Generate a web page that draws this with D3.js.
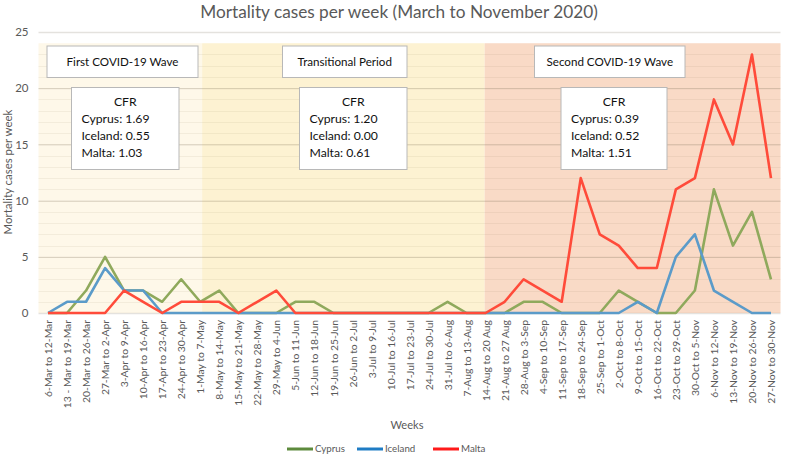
<!DOCTYPE html>
<html><head><meta charset="utf-8">
<script src="https://cdn.jsdelivr.net/npm/d3@7"></script>
<style>body{margin:0;background:#fff;} svg{display:block;}</style>
</head><body>
<script>
// ---------- DATA ----------
const weeks = ["6-Mar to 12-Mar","13 - Mar to 19-Mar","20-Mar to 26-Mar","27-Mar to 2-Apr","3-Apr to 9-Apr","10-Apr to 16-Apr","17-Apr to 23-Apr","24-Apr to 30-Apr","1-May to 7-May","8-May to 14-May","15-May to 21-May","22-May to 28-May","29-May to 4-Jun","5-Jun to 11-Jun","12-Jun to 18-Jun","19-Jun to 25-Jun","26-Jun to 2-Jul","3-Jul to 9-Jul","10-Jul to 16-Jul","17-Jul to 23-Jul","24-Jul to 30-Jul","31-Jul to 6-Aug","7-Aug to 13-Aug","14-Aug to 20 Aug","21-Aug to 27 Aug","28-Aug to 3-Sep","4-Sep to 10-Sep","11-Sep to 17-Sep","18-Sep to 24-Sep","25-Sep to 1-Oct","2-Oct to 8-Oct","9-Oct to 15-Oct","16-Oct to 22-Oct","23-Oct to 29-Oct","30-Oct to 5-Nov","6-Nov to 12-Nov","13-Nov to 19-Nov","20-Nov to 26-Nov","27-Nov to 30-Nov"];
const cyprus  = [0,0,2,5,2,2,1,3,1,2,0,0,0,1,1,0,0,0,0,0,0,1,0,0,0,1,1,0,0,0,2,1,0,0,2,11,6,9,3];
const iceland = [0,1,1,4,2,2,0,0,0,0,0,0,0,0,0,0,0,0,0,0,0,0,0,0,0,0,0,0,0,0,0,1,0,5,7,2,1,0,0];
const malta   = [0,0,0,0,2,1,0,1,1,1,0,1,2,0,0,0,0,0,0,0,0,0,0,0,1,3,2,1,12,7,6,4,4,11,12,19,15,23,12];
const seriesNames = ["Cyprus","Iceland","Malta"];
const yTicks = [0,5,10,15,20,25];
const periods = ["First COVID-19 Wave","Transitional Period","Second COVID-19 Wave"];
const periodStart = [-0.5, 8.1, 22.95];
const periodEnd   = [8.1, 22.95, 38.5];
const cfrCyprus  = ["1.69","1.20","0.39"];
const cfrIceland = ["0.55","0.00","0.52"];
const cfrMalta   = ["1.03","0.61","1.51"];
const title = "Mortality cases per week (March to November 2020)";

// ---------- STYLE ----------
const W = 787, H = 459;
const FONT = "Lato, 'Open Sans', sans-serif";
const lineColors = ["#8fa95c","#5b9bc9","#ff4b3a"];
const legendColors = ["#5d8a3c","#1f7cc4","#ff1a1a"];
const bandColors = ["#fef8e9","#fdf2d2","#f9dac6"];
const textCol = "#595959";

const svg = d3.select("body").append("svg").attr("width",W).attr("height",H)
  .style("font-family",FONT);

function fitSize(str, target){
  const t = svg.append("text").attr("font-size",100).text(str);
  const w = t.node().getComputedTextLength();
  t.remove();
  return 100*target/w;
}

const x = d3.scalePoint().domain(weeks).range([38.5,780.5]).padding(0.5);
const xi = d3.scaleLinear().domain([0,weeks.length-1]).range([x(weeks[0]), x(weeks[weeks.length-1])]);
const y = d3.scaleLinear().domain([0,25]).range([313,32]);

// bands
svg.append("g").selectAll("rect").data(periods).join("rect")
  .attr("x",(d,i)=>xi(periodStart[i]))
  .attr("width",(d,i)=>xi(periodEnd[i])-xi(periodStart[i]))
  .attr("y",y(24)).attr("height",y(0)-y(24))
  .attr("fill",(d,i)=>bandColors[i]);

// minor gridlines
svg.append("g").selectAll("line").data(d3.range(1,24)).join("line")
  .attr("x1",38.5).attr("x2",780.5)
  .attr("y1",d=>Math.round(y(d))+0.5).attr("y2",d=>Math.round(y(d))+0.5)
  .attr("stroke","rgba(120,100,60,0.08)").attr("stroke-width",1);

// major gridlines via axis
const yAxis = d3.axisLeft(y).tickValues(yTicks).tickSize(-(780.5-38.5)).tickPadding(10);
const gy = svg.append("g").attr("transform","translate(38.5,0)").call(yAxis);
gy.select(".domain").remove();
gy.selectAll(".tick line").attr("stroke","rgba(120,110,90,0.2)").attr("stroke-width",1.3);
gy.selectAll(".tick text").attr("fill",textCol).attr("font-size",11.5).attr("font-family",FONT);

// x axis labels
const xSize = fitSize(weeks[0], 77);
const xAxis = d3.axisBottom(x).tickSize(0).tickPadding(0);
const gx = svg.append("g").attr("transform",`translate(0,${y(0)})`).call(xAxis);
gx.select(".domain").remove();
gx.selectAll(".tick text")
  .attr("transform","rotate(-90)")
  .attr("text-anchor","end")
  .attr("x",-7).attr("y",0).attr("dy","0.35em")
  .attr("fill",textCol).attr("font-size",xSize).attr("font-family",FONT);

// lines
const line = d3.line().x((d,i)=>x(weeks[i])).y(d=>y(d));
[cyprus,iceland,malta].forEach((s,k)=>{
  svg.append("path").datum(s).attr("d",line)
    .attr("fill","none").attr("stroke",lineColors[k]).attr("stroke-width",2.6)
    .attr("stroke-linejoin","round");
});

// annotation boxes
const boxStroke = "#b8b8b8";
const labelSize = fitSize(periods[2], 126.7);
const cfrSize = fitSize("Cyprus: 0.39", 68);
const labelBoxes = [[47,198],[282.5,407],[534.5,685]];
const cfrBoxes = [[71.5,179],[299.5,407],[561,667]];
periods.forEach((p,i)=>{
  const [a,b] = labelBoxes[i];
  svg.append("rect").attr("x",a).attr("y",46).attr("width",b-a).attr("height",31.5)
    .attr("fill","#fff").attr("stroke",boxStroke).attr("stroke-width",1);
  svg.append("text").attr("x",(a+b)/2).attr("y",62).attr("dy","0.35em")
    .attr("text-anchor","middle").attr("font-size",labelSize).attr("fill","#111").text(p);
  const [c,d] = cfrBoxes[i];
  svg.append("rect").attr("x",c).attr("y",87.5).attr("width",d-c).attr("height",82)
    .attr("fill","#fff").attr("stroke",boxStroke).attr("stroke-width",1);
  svg.append("text").attr("x",(c+d)/2).attr("y",101.5).attr("dy","0.35em")
    .attr("text-anchor","middle").attr("font-size",cfrSize).attr("fill","#111").text("CFR");
  const rows = [`Cyprus: ${cfrCyprus[i]}`,`Iceland: ${cfrIceland[i]}`,`Malta: ${cfrMalta[i]}`];
  rows.forEach((r,j)=>{
    svg.append("text").attr("x",c+10).attr("y",118.5+j*17).attr("dy","0.35em")
      .attr("font-size",cfrSize).attr("fill","#111").text(r);
  });
});

// title
svg.append("text").attr("x",399).attr("y",12).attr("dy","0.35em").attr("text-anchor","middle")
  .attr("font-size",fitSize(title,398)).attr("fill",textCol).text(title);

// axis titles
svg.append("text").attr("x",407).attr("y",425).attr("dy","0.35em").attr("text-anchor","middle")
  .attr("font-size",fitSize("Weeks",33)).attr("fill",textCol).text("Weeks");
svg.append("text").attr("transform","translate(8,172) rotate(-90)").attr("dy","0.35em")
  .attr("text-anchor","middle").attr("font-size",fitSize("Mortality cases per week",125))
  .attr("fill",textCol).text("Mortality cases per week");

// legend
const legSize = fitSize("Cyprus",30);
const legX = [287,357,433];
const lg = svg.append("g").selectAll("g").data(seriesNames).join("g")
  .attr("transform",(d,i)=>`translate(${legX[i]},449)`);
lg.append("line").attr("x1",0).attr("x2",26).attr("stroke",(d,i)=>legendColors[i]).attr("stroke-width",3);
lg.append("text").attr("x",28).attr("dy","0.35em").attr("font-size",legSize).attr("fill",textCol).text(d=>d);
</script>
</body></html>
